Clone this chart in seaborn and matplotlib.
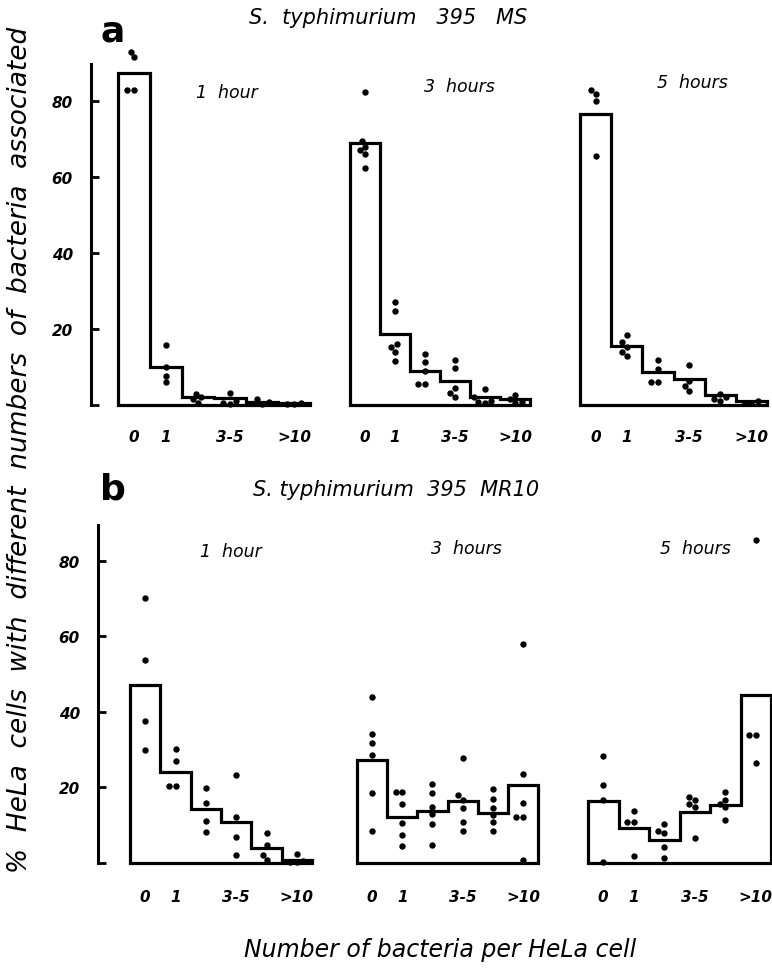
import numpy as np
import pandas as pd
import matplotlib
matplotlib.use("Agg")
import matplotlib.pyplot as plt
import seaborn as sns

# bins of "number of bacteria per HeLa cell"
CATEGORIES = ["0", "1", "2", "3-5", "6-10", ">10"]
SHOWN_LABELS = ["0", "1", "3-5", ">10"]
HOURS = ["1  hour", "3  hours", "5  hours"]
STRAINS = ["S.  typhimurium   395   MS", "S. typhimurium  395  MR10"]

# a: 395 MS, mean % per bin (bars) and single experiments (dots)
MS_1H = [87.4, 10.0, 2.2, 1.8, 0.8, 0.5]
MS_1H_PTS = [[93, 91.5, 83, 83], [15.8, 10, 7.7, 6], [3, 2, 1.5, 0.5],
             [3.2, 1, 0.5, 0.3], [1.5, 0.7, 0.3], [0.6, 0.3, 0.2]]
MS_3H = [68.9, 18.7, 8.9, 6.3, 2.2, 1.5]
MS_3H_PTS = [[82.5, 69.5, 68, 67, 66, 62.5], [27, 24.8, 16, 15.3, 14, 11.6],
             [13.4, 11.2, 9, 5.5, 5.5], [11.9, 9.7, 4.4, 3.2, 2.1],
             [4.2, 2, 1, 0.8, 0.5], [2.6, 1.5, 0.8, 0.5]]
MS_5H = [76.6, 15.6, 8.6, 6.8, 2.6, 1.0]
MS_5H_PTS = [[83, 81.8, 80, 65.6], [18.5, 16.5, 15.3, 14, 12.8],
             [11.8, 9.5, 6, 6], [10.6, 6.4, 5.1, 3.8], [3, 2, 1.5, 1],
             [1, 0.5, 0.5]]

# b: 395 MR10
MR_1H = [47.0, 24.1, 14.2, 10.8, 4.0, 0.8]
MR_1H_PTS = [[70.2, 53.6, 37.6, 30], [30.2, 27.1, 20.4, 20.4],
             [19.9, 16, 11.1, 8.2], [23.4, 12.2, 7, 2.2], [8, 4.8, 2.2, 0.7],
             [2.5, 0.5, 0.3, 0.2]]
MR_3H = [27.3, 12.3, 13.7, 16.4, 13.3, 20.7]
MR_3H_PTS = [[43.9, 34.2, 31.8, 28.6, 18.5, 8.5], [18.8, 18.8, 15.5, 10.7, 7.3, 4.4],
             [20.8, 18.6, 14.8, 12.9, 10.2, 4.8], [27.8, 17.9, 16.6, 14.6, 10.8, 8.6],
             [19.7, 17, 14.6, 12.6, 10.8, 8.4], [58, 23.6, 16, 12.3, 12.3, 0.7]]
MR_5H = [16.3, 9.3, 6.0, 13.5, 15.4, 44.5]
MR_5H_PTS = [[28.3, 20.7, 16.6, 0.3], [13.8, 10.8, 10.8, 1.8],
             [10.4, 8.6, 8, 4.2, 1.4], [17.5, 16.6, 15.7, 14.8, 6.7],
             [18.8, 16.7, 15.7, 14.8, 11.5], [85.5, 33.8, 33.8, 26.5]]

Y_TICKS = [0, 20, 40, 60, 80]

sns.set_style("white")
plt.rcParams["font.family"] = ["DejaVu Sans"]
plt.rcParams["text.color"] = "black"
plt.rcParams["xtick.color"] = "black"
plt.rcParams["ytick.color"] = "black"
plt.rcParams["axes.labelcolor"] = "black"

W, H = 772, 979
fig = plt.figure(figsize=(W / 100, H / 100), dpi=100)


def px_axes(left, top, right, bottom):
    return fig.add_axes([left / W, 1 - bottom / H, (right - left) / W, (bottom - top) / H])


def draw_panel(ax, bars, pts, first, spine_top, spine_offset):
    n = len(CATEGORIES)
    hist_df = pd.DataFrame({"bin": np.arange(n), "pct": bars})
    sns.histplot(data=hist_df, x="bin", weights="pct", discrete=True,
                 element="step", fill=True, ax=ax)
    poly = ax.collections[-1]
    poly.set_facecolor("none")
    poly.set_edgecolor("black")
    poly.set_linewidth(2.3)
    poly.set_joinstyle("miter")
    poly.set_clip_on(False)

    pts_df = pd.DataFrame({
        "bin": [i for i, v in enumerate(pts) for _ in v],
        "pct": [p for v in pts for p in v],
    })
    sns.swarmplot(data=pts_df, x="bin", y="pct", native_scale=True, orient="x",
                  color="black", size=4.6, ax=ax, clip_on=False, warn_thresh=1)

    ax.set_xlim(-0.5, n - 0.5)
    ax.set_ylim(0, 95)
    ax.set_xlabel("")
    ax.set_ylabel("")
    ax.set_xticks([CATEGORIES.index(c) for c in SHOWN_LABELS])
    ax.set_xticklabels(SHOWN_LABELS, fontstyle="italic", fontweight="bold", fontsize=11)
    for s in ["top", "right", "bottom"]:
        ax.spines[s].set_visible(False)
    if first:
        ax.spines["left"].set_position(("outward", spine_offset * 0.72))
        ax.spines["left"].set_bounds(0, spine_top)
        ax.spines["left"].set_linewidth(2.2)
        ax.spines["left"].set_color("black")
        ax.set_yticks(Y_TICKS)
        ax.set_yticklabels([""] + [str(t) for t in Y_TICKS[1:]],
                           fontstyle="italic", fontweight="bold", fontsize=11)
        ax.tick_params(axis="y", direction="in", length=6, width=2, pad=13, left=True)
    else:
        ax.spines["left"].set_visible(False)
        ax.set_yticks([])
    ax.patch.set_alpha(0)


top_boxes = [(118, 310), (350, 530), (580, 767)]
bot_boxes = [(130, 312), (357, 538), (588, 771)]
top_data = [(MS_1H, MS_1H_PTS), (MS_3H, MS_3H_PTS), (MS_5H, MS_5H_PTS)]
bot_data = [(MR_1H, MR_1H_PTS), (MR_3H, MR_3H_PTS), (MR_5H, MR_5H_PTS)]

for i, ((l, r), (bars, pts)) in enumerate(zip(top_boxes, top_data)):
    ax = px_axes(l, 45, r, 406)
    draw_panel(ax, bars, pts, i == 0, 89.7, 27)
    ax.tick_params(axis="x", length=0, pad=17)

for i, ((l, r), (bars, pts)) in enumerate(zip(bot_boxes, bot_data)):
    ax = px_axes(l, 505, r, 864)
    draw_panel(ax, bars, pts, i == 0, 89.4, 32)
    ax.tick_params(axis="x", length=0, pad=19)

# hour labels
for (x, y), txt in zip([(227, 93), (459, 87), (692, 83)], HOURS):
    fig.text(x / W, 1 - y / H, txt, ha="center", va="center", fontsize=12.5, fontstyle="italic")
for (x, y), txt in zip([(231, 552), (466, 549), (695, 549)], HOURS):
    fig.text(x / W, 1 - y / H, txt, ha="center", va="center", fontsize=12.5, fontstyle="italic")

# strain titles and panel letters
fig.text(388 / W, 1 - 18 / H, STRAINS[0], ha="center", va="center", fontsize=15, fontstyle="italic")
fig.text(396 / W, 1 - 490 / H, STRAINS[1], ha="center", va="center", fontsize=15, fontstyle="italic")
fig.text(113 / W, 1 - 31 / H, "a", ha="center", va="center", fontsize=26, fontweight="bold")
fig.text(113 / W, 1 - 490 / H, "b", ha="center", va="center", fontsize=26, fontweight="bold")

fig.text(20 / W, 1 - 450 / H, "%  HeLa  cells  with  different  numbers  of  bacteria  associated",
         rotation=90, ha="center", va="center", fontsize=19, fontstyle="italic")
fig.text(440 / W, 1 - 950 / H, "Number of bacteria per HeLa cell",
         ha="center", va="center", fontsize=17, fontstyle="italic")

fig.savefig("out.png", dpi=100, facecolor="white")
